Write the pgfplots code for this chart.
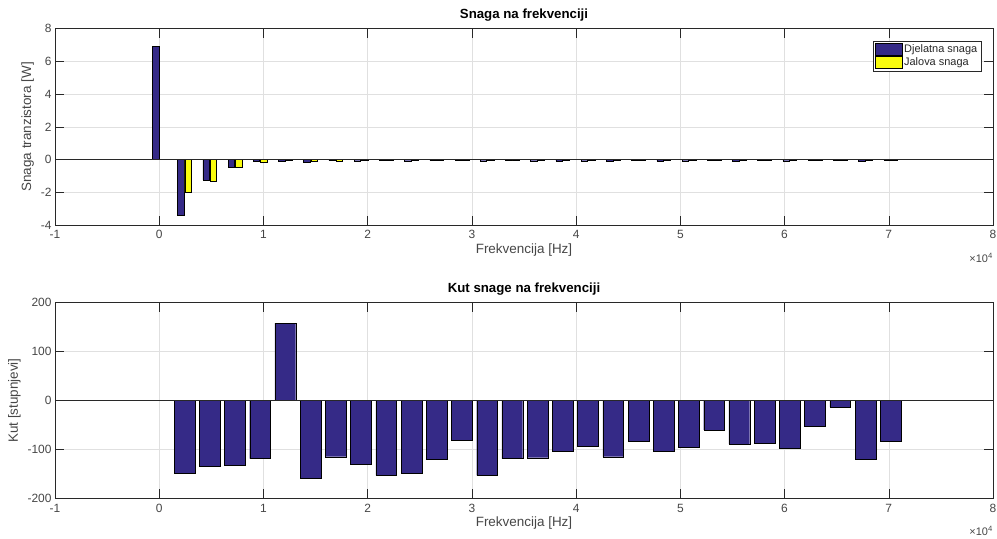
\documentclass[border=0pt]{standalone}
\usepackage{fontspec}
\setmainfont{Liberation Sans}
\usepackage{pgfplots}
\usepackage{pgfplotstable}
\pgfplotsset{compat=1.18}
\definecolor{mblue}{RGB}{53,42,135}
\definecolor{myellow}{RGB}{249,251,14}
\definecolor{axgray}{RGB}{40,40,40}
\definecolor{gridgray}{RGB}{224,224,224}
\definecolor{lblgray}{RGB}{70,70,70}

\pgfplotstableread{
f      P      Q
0      6.90   0.00
2420  -3.41  -2.01
4840  -1.24  -1.30
7260  -0.45  -0.45
9680  -0.10  -0.15
12100 -0.10  -0.02
14520 -0.15  -0.08
16940 -0.06  -0.10
19360 -0.07  -0.04
21780 -0.06  -0.03
24200 -0.07  -0.04
26620 -0.06  -0.03
29040 -0.05  -0.03
31460 -0.07  -0.04
33880 -0.06  -0.03
36300 -0.07  -0.04
38720 -0.08  -0.03
41140 -0.07  -0.04
43560 -0.08  -0.03
45980 -0.05  -0.03
48400 -0.08  -0.03
50820 -0.07  -0.04
53240 -0.05  -0.02
55660 -0.08  -0.03
58080 -0.06  -0.03
60500 -0.07  -0.04
62920 -0.05  -0.03
65340 -0.05  -0.02
67760 -0.08  -0.03
70180 -0.05  -0.02
}\powertable

\pgfplotstableread{
f      A
0      0
2420  -149
4840  -134
7260  -133
9680  -119
12100  158
14520 -159
16940 -115
19360 -131
21780 -153
24200 -149
26620 -121
29040 -82
31460 -153
33880 -119
36300 -117
38720 -104
41140 -93
43560 -115
45980 -84
48400 -104
50820 -95
53240 -60
55660 -89
58080 -87
60500 -98
62920 -53
65340 -13
67760 -120
70180 -84
}\angletable

\pgfplotsset{mstyle/.style={
  width=938bp, scale only axis,
  xmin=-10000, xmax=80000, xtick={-10000,0,...,80000},
  scaled x ticks=base 10:-4,
  xtick scale label code/.code={×10\textsuperscript{4}},
  every x tick scale label/.style={at={(rel axis cs:1,0)}, anchor=east, yshift=-31bp, xshift=0bp, inner sep=0pt, font=\fontsize{11}{12}\selectfont, text=lblgray},
  grid=major, major grid style={gridgray, line width=0.5pt},
  tick align=inside, major tick length=9bp,
  xtick pos=both, ytick pos=both,
  tick style={axgray, line width=0.5pt},
  axis line style={axgray, line width=0.6pt},
  ticklabel style={font=\fontsize{12}{13}\selectfont, text=lblgray},
  xticklabel style={yshift=-2bp},
  /pgf/number format/assume math mode=true,
  xlabel={Frekvencija [Hz]},
  xlabel style={yshift=2bp},
  label style={font=\fontsize{13.5}{15}\selectfont, text=lblgray},
  title style={font=\bfseries\fontsize{13.3}{15}\selectfont, yshift=-2bp},
}}

\begin{document}
\begin{tikzpicture}
\useasboundingbox (0,0) rectangle (997bp,539bp);
\begin{axis}[mstyle, at={(55bp,314bp)}, anchor=south west, height=196.3bp,
  ymin=-4, ymax=8, ytick={-4,-2,...,8},
  ylabel={Snaga tranzistora [W]},
  title={Snaga na frekvenciji},
  legend style={at={(rel axis cs:1,1)}, anchor=north east, xshift=-12bp, yshift=-12bp,
    draw=axgray, line width=0.5pt, font=\fontsize{11}{13}\selectfont, text=axgray,
    cells={anchor=west}, inner sep=1.5bp, row sep=0bp},
]
\addplot[ybar, bar width=620, bar shift=-350, fill=mblue, draw=black, line width=0.4pt,
  legend image code/.code={\draw[fill=mblue, draw=black, line width=0.4pt] (0bp,-6bp) rectangle (27bp,6bp);}]
  table[x=f, y=P] {\powertable};
\addlegendentry{Djelatna snaga}
\addplot[ybar, bar width=620, bar shift=350, fill=myellow, draw=black, line width=0.4pt,
  legend image code/.code={\draw[fill=myellow, draw=black, line width=0.4pt] (0bp,-6bp) rectangle (27bp,6bp);}]
  table[x=f, y=Q] {\powertable};
\addlegendentry{Jalova snaga}
\addplot[axgray, line width=0.6pt, forget plot] coordinates {(-10000,0) (80000,0)};
\end{axis}

\begin{axis}[mstyle, at={(55bp,40.7bp)}, anchor=south west, height=195.6bp,
  ymin=-200, ymax=200, ytick={-200,-100,...,200},
  ylabel={Kut [stupnjevi]},
  title={Kut snage na frekvenciji},
]
\addplot[ybar, bar width=1990, bar shift=0, fill=mblue, draw=black, line width=0.4pt]
  table[x=f, y=A] {\angletable};
\addplot[axgray, line width=0.6pt] coordinates {(-10000,0) (80000,0)};
\end{axis}
\end{tikzpicture}
\end{document}
